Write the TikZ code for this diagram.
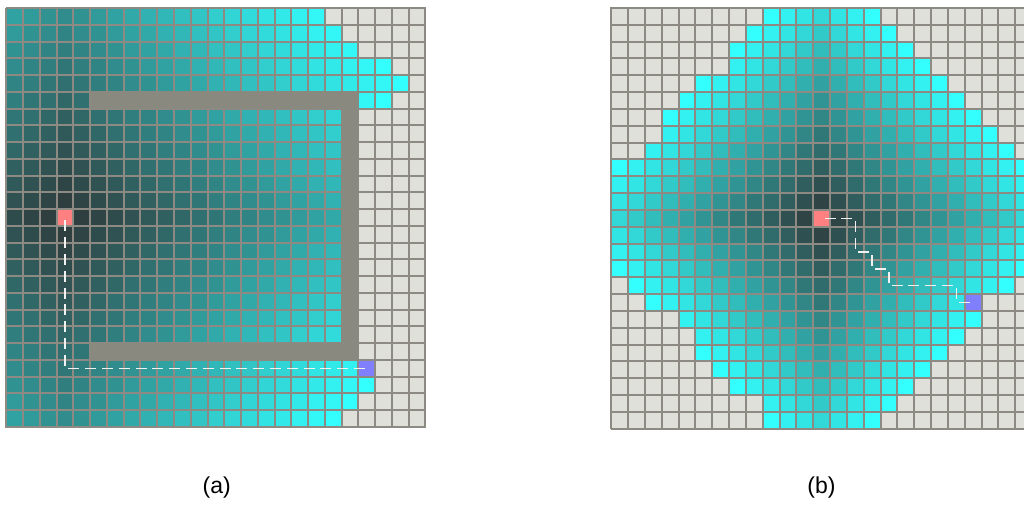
\documentclass[tikz,border=0pt]{standalone}
\usepackage{fontspec}
\setmainfont{Liberation Sans}
\definecolor{darklo}{RGB}{47,54,54}
\definecolor{cyanhi}{RGB}{51,255,255}
\definecolor{unvis}{RGB}{224,224,218}
\definecolor{gridc}{RGB}{140,138,130}
\definecolor{wallc}{RGB}{138,137,128}
\definecolor{startc}{RGB}{255,128,128}
\definecolor{goalc}{RGB}{128,128,255}
\definecolor{dashw}{RGB}{242,242,242}
\tikzset{
  gridline/.style={draw=gridc, line width=1.3pt},
  pathshadow/.style={draw=black, line width=1.5pt, dash pattern=on 11pt off 5.8pt, dash phase=13.9pt},
  pathlight/.style={draw=dashw, line width=1.5pt, dash pattern=on 11pt off 5.8pt, dash phase=13.9pt},
  caption/.style={font=\fontsize{23}{27}\selectfont, inner sep=0pt}
}
\begin{document}
\begin{tikzpicture}[x=1pt,y=-1pt]
\useasboundingbox (0,0) rectangle (1024,504);
\clip (0,0) rectangle (1024,504);

% ---------- panel (a) ----------
\begin{scope}[shift={(6.4,8)}, x=16.76pt, y=-16.76pt]
  \fill[unvis] (0,0) rectangle (25,25);
  \foreach \r in {0,...,24}{
    \foreach \c in {0,...,24}{
      \pgfmathtruncatemacro\dd{(\c>20 && \r>4 && \r<21) ? min(\c+\r+1,\c-\r+27) : abs(\c-3)+abs(\r-12)}
      \ifnum\dd<28
        \pgfmathtruncatemacro\pp{round(100*\dd/28)}
        \fill[cyanhi!\pp!darklo] (\c,\r) rectangle +(1,1);
      \fi
    }
  }
  \foreach \c/\r in {22/3,23/4,22/5,21/22,20/23,19/24}
    \fill[cyanhi] (\c,\r) rectangle +(1,1);
  \fill[startc] (3,12) rectangle +(1,1);
  \fill[goalc] (21,21) rectangle +(1,1);
  \foreach \i in {0,...,25}{
    \pgfmathsetmacro\xs{(round(6.4+16.76*\i)-6.4)/16.76}
    \pgfmathsetmacro\ys{(round(8+16.76*\i)-8)/16.76}
    \draw[gridline] (\xs,-0.03) -- (\xs,25.03);
    \draw[gridline] (-0.03,\ys) -- (25.03,\ys);
  }
  \filldraw[fill=wallc, draw=wallc, line width=1.3pt]
    (5,5) -- (21,5) -- (21,21) -- (5,21) -- (5,20) -- (20,20) -- (20,6) -- (5,6) -- cycle;
  \coordinate (sa) at (3.5,12.5);
  \coordinate (ka) at (3.5,21.5);
  \coordinate (ga) at (21.5,21.5);
  \begin{scope}[shift={(-0.9pt,-1.4pt)}]
    \draw[pathshadow] (sa) -- (ka) -- (ga);
  \end{scope}
  \draw[pathlight] (sa) -- (ka) -- (ga);
\end{scope}

% ---------- panel (b) ----------
\begin{scope}[shift={(611.3,8)}, x=16.83pt, y=-16.83pt]
  \fill[unvis] (0,0) rectangle (25,25);
  \foreach \r in {0,...,24}{
    \foreach \c in {0,...,24}{
      \pgfmathtruncatemacro\dd{abs(\c-12)+abs(\r-12)}
      \ifnum\dd<15
        \pgfmathtruncatemacro\pp{round(100*\dd/15)}
        \fill[cyanhi!\pp!darklo] (\c,\r) rectangle +(1,1);
      \fi
    }
  }
  \foreach \c/\r in {9/0,8/1,7/2,5/4,4/5,3/6,0/9,
                     15/0,16/1,17/2,18/3,19/4,20/5,21/6,22/7,23/8,24/9,
                     0/15,1/16,2/17,5/20,6/21,7/22,9/24,
                     24/15,23/16,21/18,20/19,19/20,18/21,17/22,16/23,15/24}
    \fill[cyanhi] (\c,\r) rectangle +(1,1);
  \fill[startc] (12,12) rectangle +(1,1);
  \fill[goalc] (21,17) rectangle +(1,1);
  \foreach \i in {0,...,25}{
    \pgfmathsetmacro\xs{(round(611.3+16.83*\i)-611.3)/16.83}
    \pgfmathsetmacro\ys{(round(8+16.83*\i)-8)/16.83}
    \draw[gridline] (\xs,-0.03) -- (\xs,25.03);
    \draw[gridline] (-0.03,\ys) -- (25.03,\ys);
  }
  \coordinate (sb) at (12.5,12.5);
  \coordinate (b1) at (14.5,12.5);
  \coordinate (b2) at (14.5,14.5);
  \coordinate (b3) at (15.5,14.5);
  \coordinate (b4) at (15.5,15.5);
  \coordinate (b5) at (16.5,15.5);
  \coordinate (b6) at (16.5,16.5);
  \coordinate (b7) at (20.5,16.5);
  \coordinate (b8) at (20.5,17.5);
  \coordinate (gb) at (21.5,17.5);
  \begin{scope}[shift={(-0.9pt,-1.4pt)}]
    \draw[pathshadow] (sb) -- (b1) -- (b2) -- (b3) -- (b4) -- (b5) -- (b6) -- (b7) -- (b8) -- (gb);
  \end{scope}
  \draw[pathlight] (sb) -- (b1) -- (b2) -- (b3) -- (b4) -- (b5) -- (b6) -- (b7) -- (b8) -- (gb);
\end{scope}

% ---------- captions ----------
\node[caption] (capa) at (216.7,487.5) {(a)};
\node[caption] (capb) at (821.5,487.5) {(b)};
\end{tikzpicture}
\end{document}
